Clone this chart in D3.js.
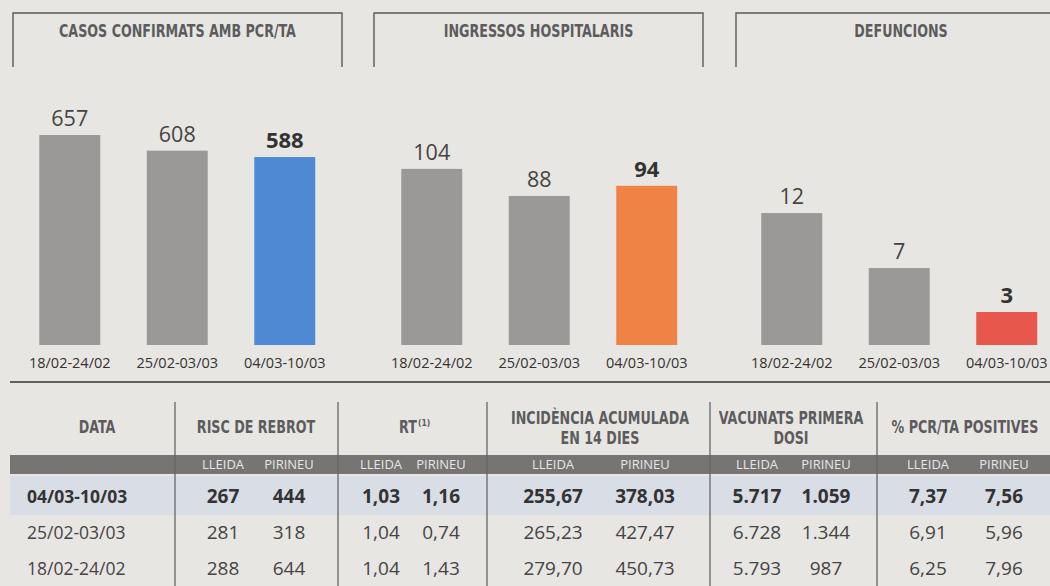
<!DOCTYPE html>
<html>
<head>
<meta charset="utf-8">
<script src="https://cdn.jsdelivr.net/npm/d3@7"></script>
<style>
  body { margin: 0; background: #e8e6e2; }
  svg { display: block; }
</style>
</head>
<body>
<div id="chart"></div>
<script>
// ---- data ----
const periods = ["18/02-24/02", "25/02-03/03", "04/03-10/03"];
const panelTitles = ["CASOS CONFIRMATS AMB PCR/TA", "INGRESSOS HOSPITALARIS", "DEFUNCIONS"];
const casos = [657, 608, 588];
const ingressos = [104, 88, 94];
const defuncions = [12, 7, 3];

const tableDates = ["04/03-10/03", "25/02-03/03", "18/02-24/02"];
const riscLleida = [267, 281, 288];
const riscPirineu = [444, 318, 644];
const rtLleida = [1.03, 1.04, 1.04];
const rtPirineu = [1.16, 0.74, 1.43];
const iaLleida = [255.67, 265.23, 279.70];
const iaPirineu = [378.03, 427.47, 450.73];
const vacLleida = [5717, 6728, 5793];
const vacPirineu = [1059, 1344, 987];
const pcrLleida = [7.37, 6.91, 6.25];
const pcrPirineu = [7.56, 5.96, 7.96];
const subLabels = ["LLEIDA", "PIRINEU"];

// ---- layout ----
const width = 1050, height = 586;
const narrow = "'Liberation Sans Narrow', 'DejaVu Sans Condensed', 'Arial Narrow', sans-serif";
const body = "'Open Sans', 'Noto Sans', sans-serif";
const grey = "#9b9997";
const headGrey = "#5c5c5e";
const squeeze = 0.83;   // horizontal squeeze for the bold condensed headings

const ca = d3.formatLocale({decimal: ",", thousands: ".", grouping: [3], currency: ["", "€"]});
const f2 = ca.format(",.2f"), fInt = ca.format(",d");

// bold heading, centred on (cx, y) and squeezed horizontally
function heading(parent, cx, y, label) {
    return parent.append("text")
        .attr("transform", `translate(${cx},${y}) scale(${squeeze},1)`)
        .attr("text-anchor", "middle")
        .style("font-family", narrow)
        .style("font-weight", "bold")
        .style("font-size", "17px")
        .style("fill", headGrey)
        .text(label);
}

const svg = d3.select("#chart").append("svg")
    .attr("width", width)
    .attr("height", height);

svg.append("rect").attr("width", width).attr("height", height).attr("fill", "#e8e6e2");

const panels = [
    {title: panelTitles[0], values: casos, hi: "#4f89d3", x0: 16, box: [13, 342], top: 657},
    {title: panelTitles[1], values: ingressos, hi: "#ee8345", x0: 378, box: [374, 703], top: 124},
    {title: panelTitles[2], values: defuncions, hi: "#e8574c", x0: 738, box: [736, 1066], top: 19.1}
];

const baseY = 345, barH = 210;

panels.forEach(function (p) {
    let g = svg.append("g");

    // header box
    g.append("path")
        .attr("d", `M${p.box[0]},67 V13 H${p.box[1]} V67`)
        .attr("fill", "none")
        .attr("stroke", "#5a5a5a")
        .attr("stroke-width", 1.4);
    heading(g, (p.box[0] + p.box[1]) / 2, 37, p.title);

    let x = d3.scaleBand()
        .domain(periods)
        .range([p.x0, p.x0 + 322.5])
        .paddingInner(0.433)
        .paddingOuter(0.2165);
    let y = d3.scaleLinear().domain([0, p.top]).range([baseY, baseY - barH]);

    g.selectAll("rect.bar")
        .data(p.values)
        .join("rect")
        .attr("class", "bar")
        .attr("x", (d, i) => x(periods[i]))
        .attr("y", d => y(d))
        .attr("width", x.bandwidth())
        .attr("height", d => baseY - y(d))
        .attr("fill", (d, i) => i === 2 ? p.hi : grey);

    g.selectAll("text.val")
        .data(p.values)
        .join("text")
        .attr("class", "val")
        .attr("x", (d, i) => x(periods[i]) + x.bandwidth() / 2)
        .attr("y", d => y(d) - 9)
        .attr("text-anchor", "middle")
        .style("font-family", body)
        .style("font-size", (d, i) => i === 2 ? "22px" : "21.5px")
        .style("font-weight", (d, i) => i === 2 ? "bold" : "normal")
        .style("fill", (d, i) => i === 2 ? "#333" : "#444")
        .text(d => d);

    let xAxis = d3.axisBottom(x).tickSize(0).tickPadding(0);
    let ax = g.append("g")
        .attr("transform", `translate(0, ${baseY + 13})`)
        .call(xAxis);
    ax.select(".domain").remove();
    ax.selectAll("text")
        .attr("dy", "0.71em")
        .style("font-family", body)
        .style("font-size", "14.5px")
        .style("fill", "#333");
});

// ---- table ----
svg.append("line")
    .attr("x1", 10).attr("x2", width)
    .attr("y1", 382).attr("y2", 382)
    .attr("stroke", "#333").attr("stroke-width", 1.6);

// sub-label band and highlighted row
svg.append("rect").attr("x", 10).attr("y", 455).attr("width", width - 10).attr("height", 19).attr("fill", "#777573");
svg.append("rect").attr("x", 10).attr("y", 476).attr("width", width - 10).attr("height", 39).attr("fill", "#d9dde6");

const columns = [
    {head: ["DATA"], cx: 97},
    {head: ["RISC DE REBROT"], cx: 256, subs: [223, 289], vals: [riscLleida, riscPirineu], fmt: fInt},
    {head: ["RT"], cx: 408, subs: [381, 441], vals: [rtLleida, rtPirineu], fmt: f2, sup: "(1)"},
    {head: ["INCIDÈNCIA ACUMULADA", "EN 14 DIES"], cx: 600, subs: [553, 645], vals: [iaLleida, iaPirineu], fmt: f2},
    {head: ["VACUNATS PRIMERA", "DOSI"], cx: 791, subs: [757, 826], vals: [vacLleida, vacPirineu], fmt: fInt},
    {head: ["% PCR/TA POSITIVES"], cx: 965, subs: [928, 1004], vals: [pcrLleida, pcrPirineu], fmt: f2}
];
const dividers = [175, 338, 487, 710, 877];
const rowY = [496, 532, 568];

svg.selectAll("line.div")
    .data(dividers)
    .join("line")
    .attr("class", "div")
    .attr("x1", d => d).attr("x2", d => d)
    .attr("y1", 402).attr("y2", height)
    .attr("stroke", "#666").attr("stroke-width", 1.3);

columns.forEach(function (c) {
    let lines = c.head.length === 1 ? [433] : [424, 444];
    c.head.forEach(function (h, i) {
        heading(svg, c.cx, lines[i], h);
    });
    if (c.sup) {
        svg.append("text")
            .attr("x", c.cx + 10).attr("y", lines[0] - 7)
            .style("font-family", narrow)
            .style("font-weight", "bold")
            .style("font-size", "8.5px")
            .style("fill", headGrey)
            .text(c.sup);
    }

    if (!c.subs) return;
    c.subs.forEach(function (sx, k) {
        svg.append("text")
            .attr("x", sx).attr("y", 469)
            .attr("text-anchor", "middle")
            .style("font-family", body)
            .style("font-size", "13px")
            .style("fill", "#e6e6e6")
            .text(subLabels[k]);

        svg.selectAll(null)
            .data(c.vals[k])
            .join("text")
            .attr("x", sx)
            .attr("y", (d, i) => rowY[i] + 7)
            .attr("text-anchor", "middle")
            .style("font-family", body)
            .style("font-size", "19px")
            .style("font-weight", (d, i) => i === 0 ? "bold" : "normal")
            .style("fill", (d, i) => i === 0 ? "#333" : "#444")
            .text(d => c.fmt(d));
    });
});

svg.selectAll("text.date")
    .data(tableDates)
    .join("text")
    .attr("class", "date")
    .attr("x", 27)
    .attr("y", (d, i) => rowY[i] + 7)
    .style("font-family", body)
    .style("font-size", "17.5px")
    .style("font-weight", (d, i) => i === 0 ? "bold" : "normal")
    .style("fill", (d, i) => i === 0 ? "#333" : "#444")
    .text(d => d);
</script>
</body>
</html>
